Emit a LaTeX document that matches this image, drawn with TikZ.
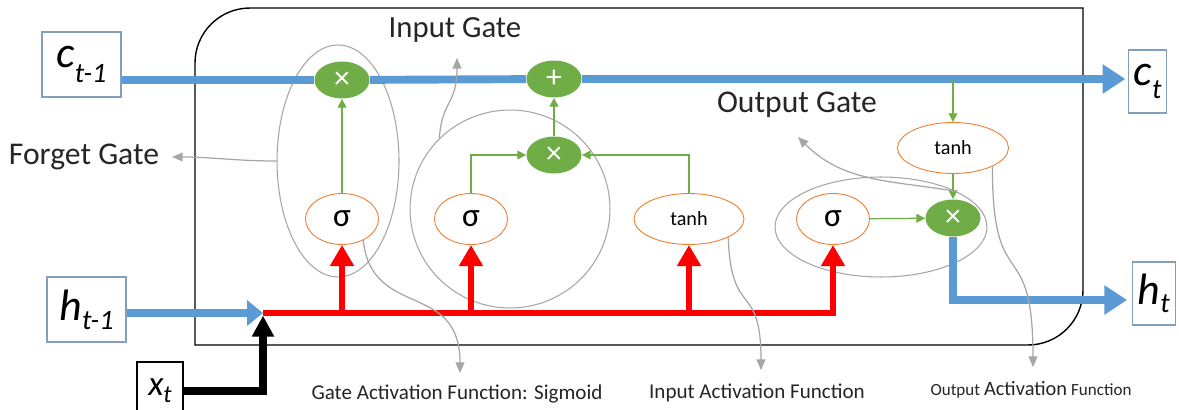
\documentclass[tikz,border=0pt]{standalone}
\usepackage{fontspec}
\setmainfont{Carlito}
\usepackage{tikz}
\usetikzlibrary{arrows.meta,positioning,shapes.geometric}
\definecolor{CellBlue}{RGB}{91,155,213}
\definecolor{GateGreen}{RGB}{112,173,71}
\definecolor{ActOrange}{RGB}{237,125,49}
\definecolor{NoteGray}{RGB}{166,166,166}
\definecolor{BoxBlue}{RGB}{130,160,190}
\definecolor{FlowRed}{RGB}{255,0,0}

\begin{document}
\begin{tikzpicture}[x=0.02cm,y=-0.02cm,>=Latex,
  gatenode/.style={ellipse,fill=GateGreen,text=white,inner sep=0pt,minimum width=1.1cm,minimum height=0.74cm,font=\fontsize{18}{18}\selectfont},
  actnode/.style={ellipse,draw=ActOrange,line width=0.5pt,fill=white,inner sep=0pt,minimum width=1.46cm,minimum height=1.02cm,font=\fontsize{19}{19}\selectfont},
  groupring/.style={ellipse,draw=NoteGray,line width=0.6pt,inner sep=0pt},
  iobox/.style={draw=BoxBlue,line width=0.6pt,inner sep=0pt,font=\fontsize{25}{25}\selectfont\itshape},
  cellline/.style={CellBlue,line width=4.5pt,>={Triangle[width=16pt,length=13pt]}},
  redline/.style={->,FlowRed,line width=3.8pt,>={Triangle[width=13pt,length=12pt]}},
  gline/.style={->,GateGreen,line width=0.7pt,>={Triangle[width=5pt,length=5pt]}},
  note/.style={->,NoteGray,line width=0.7pt,>={Triangle[width=5pt,length=6pt]}},
  notelab/.style={text=black!85,inner sep=0pt}]
\useasboundingbox[fill=white] (0,0) rectangle (1179,409);

% cell outline
\draw[line width=0.8pt] (195,345) -- (195,63) arc[start angle=180,end angle=90,radius=1.1cm]
  -- (1083,8) -- (1083,290) arc[start angle=0,end angle=-90,radius=1.1cm] -- cycle;

% inputs and outputs
\node[iobox,minimum width=1.58cm,minimum height=1.3cm] (cprev) at (81.5,64.5) {c\raisebox{-9pt}{\fontsize{16}{16}\selectfont t-1}};
\node[iobox,minimum width=1.58cm,minimum height=1.3cm] (hprev) at (86.5,309.5) {h\raisebox{-5pt}{\fontsize{16}{16}\selectfont t-1}};
\node[iobox,anchor=west,minimum height=1.26cm,inner xsep=3pt] (ct) at (1128,81.5) {c\raisebox{-7pt}{\fontsize{16}{16}\selectfont t}\hspace{9pt}};
\node[iobox,anchor=west,minimum height=1.26cm,inner xsep=3pt] (ht) at (1132,293.5) {h\raisebox{-4.5pt}{\fontsize{16}{16}\selectfont t}\hspace{6pt}};
\node[draw,line width=0.6pt,minimum width=0.92cm,minimum height=1.16cm,font=\fontsize{20}{20}\selectfont\itshape] (xt) at (160,391) {x\raisebox{-4pt}{\fontsize{14}{14}\selectfont t}};

% gate groups
\node[groupring,minimum width=2.44cm,minimum height=4.64cm] (fgroup) at (338,161) {};
\node[groupring,minimum width=4cm,minimum height=3.96cm] (igroup) at (510,209) {};
\node[groupring,minimum width=4.24cm,minimum height=2cm] (ogroup) at (881,227) {};

% pointwise operations
\node[gatenode] (fmul) at (342,80) {×};
\node[gatenode] (plus) at (554,79) {+};
\node[gatenode] (imul) at (554,155) {×};
\node[gatenode] (omul) at (953,218) {×};

% activations
\foreach \x/\n in {342/sig1,471/sig2,833/sig3}
  {\node[actnode] (\n) at (\x,219) {σ};}
\node[actnode,minimum width=2.2cm,font=\fontsize{11.5}{11.5}\selectfont] (tanhin) at (689,219) {tanh};
\node[actnode,minimum width=2.22cm,font=\fontsize{11.5}{11.5}\selectfont] (tanhout) at (953,148) {tanh};

\coordinate (junc) at (263,313);
\coordinate (hout) at (1132,300);
\coordinate (ctap) at (953,80);

% cell state
\draw[cellline] (cprev.east |- fmul) -- (fmul);
\draw[cellline] (fmul) -- (plus);
\draw[cellline,->,shorten >=1.5pt] (plus) -- (ct.west |- plus);

% h_{t-1} and x_t into the gates
\draw[redline] (junc) -| (sig3);
\foreach \n in {sig1,sig2,tanhin}
  {\draw[redline] (\n |- junc) -- (\n);}
\draw[cellline,->,>={Triangle[width=14pt,length=9pt]}] (hprev.east |- junc) -- (junc);
\draw[->,line width=4pt,>={Triangle[width=12pt,length=12pt]},shorten >=1.5pt] (xt) -| (junc);

\draw[gline] (sig1) -- (fmul);
\draw[gline] (sig2) |- (imul);
\draw[gline] (tanhin) |- (imul);
\draw[gline] (imul) -- (plus);
\draw[gline] (ctap) -- (tanhout);
\draw[gline] (tanhout) -- (omul);
\draw[gline] (sig3) -- (omul);

\draw[cellline,->,shorten >=2.8pt] (omul) |- (hout);

% labels
\node[notelab,font=\fontsize{18}{18}\selectfont] (flab) at (84,157) {Forget Gate};
\node[notelab,font=\fontsize{17.5}{18}\selectfont] (ilab) at (455,30) {Input Gate};
\node[notelab,font=\fontsize{18}{18}\selectfont] (olab) at (797,105) {Output Gate};
\node[notelab,font=\fontsize{12}{12}\selectfont] (gact) at (457,394) {Gate Activation Function: Sigmoid};
\node[notelab,font=\fontsize{12}{12}\selectfont] (iact) at (757,393) {Input Activation Function};
\node[notelab] (oact) at (1031,390) {{\fontsize{9.7}{10}\selectfont Output} {\fontsize{11.6}{12}\selectfont Activation} {\fontsize{9.7}{10}\selectfont Function}};

\coordinate (ftip) at (172,157);
\coordinate (itip) at (457,58);
\coordinate (otip) at (798,137);
\coordinate (gtip) at (460,373);
\coordinate (intip) at (761,370);
\coordinate (outip) at (1033,367);

\draw[note] (fgroup.west) to[out=180,in=0] (ftip);
\draw[note] (igroup.135) .. controls (442,100) and (457,105) .. (itip);
\draw[note] (ogroup.25) to[out=170,in=-45] (otip);
\draw[note] (sig1.-45) .. controls (372,320) and (460,280) .. (gtip);
\draw[note] (tanhin.-25) .. controls (731,320) and (761,280) .. (intip);
\draw[note] (tanhout.-25) .. controls (992,300) and (1033,230) .. (outip);
\end{tikzpicture}
\end{document}
